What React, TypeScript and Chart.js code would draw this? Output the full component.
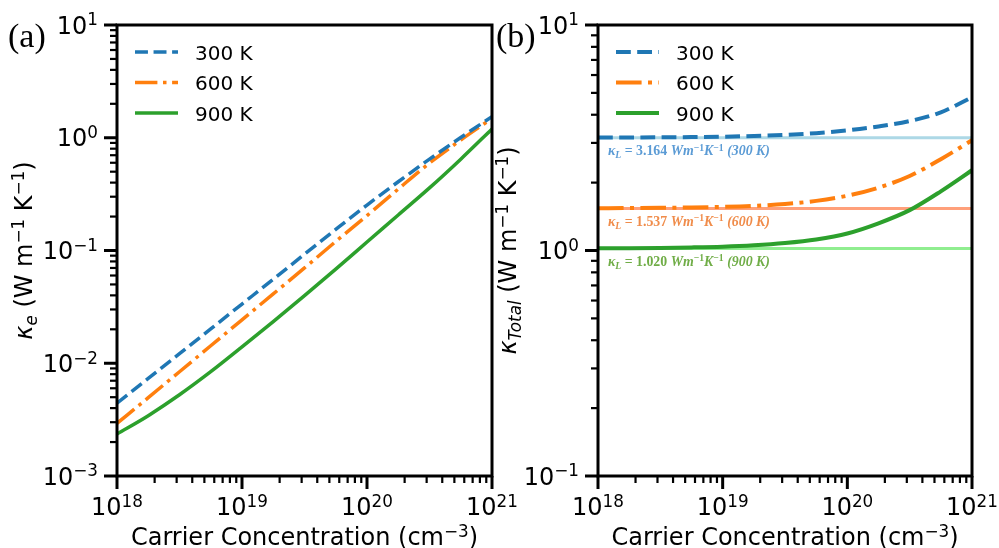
import React, { useEffect, useRef } from 'react';
import { Chart, registerables } from 'chart.js';

Chart.register(...registerables);

// ---------------- data ----------------
const CARRIER_CONC = [1e18, 1.778e18, 3.162e18, 5.623e18, 1e19, 1.778e19, 3.162e19, 5.623e19, 1e20, 1.778e20, 3.162e20, 5.623e20, 1e21];

// panel (a): electronic thermal conductivity
const KE_300 = [0.00442, 0.00733, 0.01216, 0.02018, 0.0335, 0.0556, 0.0927, 0.1538, 0.253, 0.407, 0.646, 1.005, 1.538];
const KE_600 = [0.00293, 0.00495, 0.00841, 0.01429, 0.02427, 0.0412, 0.07, 0.1202, 0.2042, 0.3508, 0.5957, 0.955, 1.486];
const KE_900 = [0.00236, 0.00343, 0.00525, 0.00841, 0.01396, 0.02344, 0.0398, 0.0684, 0.1189, 0.2065, 0.3589, 0.6457, 1.197];

// panel (b): total thermal conductivity
const KTOT_300 = [3.169, 3.171, 3.176, 3.184, 3.197, 3.22, 3.255, 3.315, 3.41, 3.55, 3.75, 4.1, 4.78];
const KTOT_600 = [1.54, 1.542, 1.546, 1.552, 1.562, 1.578, 1.607, 1.66, 1.75, 1.9, 2.14, 2.54, 3.08];
const KTOT_900 = [1.022, 1.024, 1.027, 1.032, 1.04, 1.055, 1.08, 1.12, 1.19, 1.32, 1.51, 1.83, 2.27];

// lattice thermal conductivity
const KL_VALUES = [3.164, 1.537, 1.02];
const KL_TEXT = ['3.164', '1.537', '1.020'];
const TEMPS = ['300 K', '600 K', '900 K'];
const TEMP_NUMS = ['300', '600', '900'];

// ticks
const X_TICKS = [1e18, 1e19, 1e20, 1e21];
const X_TICK_EXP = ['18', '19', '20', '21'];
const Y_TICKS_A = [1e-3, 1e-2, 1e-1, 1, 10];
const Y_TICK_EXP_A = ['−3', '−2', '−1', '0', '1'];
const Y_TICKS_B = [0.1, 1, 10];
const Y_TICK_EXP_B = ['−1', '0', '1'];

// ---------------- styles ----------------
const COLORS = ['#1f77b4', '#ff7f0e', '#2ca02c'];
const KL_LINE_COLORS = ['#add8e6', '#ffa07a', '#90ee90'];
const KL_TEXT_COLORS = ['#5b9bd5', '#f08c4a', '#70ad47'];
const SANS = '"DejaVu Sans", sans-serif';
const SERIF = '"Liberation Serif", serif';
const NOTE_WIDTH = 162;

type Seg = { t: string; sup?: boolean; sub?: boolean; italic?: boolean; bold?: boolean };

function segFont(s: Seg, size: number, family: string, boldAll = false, italicAll = false) {
  const sz = s.sup || s.sub ? size * 0.7 : size;
  const it = s.italic || italicAll ? 'italic ' : '';
  const bd = s.bold || boldAll ? 'bold ' : '';
  return `${it}${bd}${sz}px ${family}`;
}

function measureRich(ctx: CanvasRenderingContext2D, segs: Seg[], size: number, family: string, boldAll = false, italicAll = false) {
  let w = 0;
  for (const s of segs) {
    ctx.font = segFont(s, size, family, boldAll, italicAll);
    w += ctx.measureText(s.t).width;
  }
  return w;
}

function drawRich(
  ctx: CanvasRenderingContext2D,
  segs: Seg[],
  x: number,
  y: number,
  size: number,
  family: string,
  align: 'left' | 'center' | 'right',
  color: string,
  boldAll = false,
  italicAll = false
) {
  const w = measureRich(ctx, segs, size, family, boldAll, italicAll);
  let cx = align === 'left' ? x : align === 'center' ? x - w / 2 : x - w;
  ctx.textAlign = 'left';
  ctx.textBaseline = 'alphabetic';
  ctx.fillStyle = color;
  for (const s of segs) {
    ctx.font = segFont(s, size, family, boldAll, italicAll);
    const dy = s.sup ? -size * 0.34 : s.sub ? size * 0.2 : 0;
    ctx.fillText(s.t, cx, y + dy);
    cx += ctx.measureText(s.t).width;
  }
}

type PanelCfg = {
  yTicks: number[];
  yExp: string[];
  yMin: number;
  yMax: number;
  yTitle: Seg[];
  yTitleX: number;
  panelLabel: string;
  panelLabelX: number;
  lineWidth: number;
  showKL: boolean;
};

function noteSegs(i: number): Seg[] {
  return [
    { t: 'κ', italic: true },
    { t: 'L', sub: true, italic: true },
    { t: ' = ' + KL_TEXT[i] + ' ' },
    { t: 'Wm', italic: true },
    { t: '−1', sup: true },
    { t: 'K', italic: true },
    { t: '−1', sup: true },
    { t: ' (' + TEMP_NUMS[i] + ' ', italic: true },
    { t: 'K', italic: true },
    { t: ')', italic: true },
  ];
}

function makePlugin(cfg: PanelCfg) {
  return {
    id: 'panelDecor',
    afterDraw(chart: any) {
      const ctx: CanvasRenderingContext2D = chart.ctx;
      const { left, right, top, bottom } = chart.chartArea;
      const xs = chart.scales.x;
      const ys = chart.scales.y;
      ctx.save();

      // kappa_L annotations
      if (cfg.showKL) {
        const w16 = measureRich(ctx, noteSegs(0), 16, SERIF, true);
        const size = (16 * NOTE_WIDTH) / w16;
        KL_VALUES.forEach((v, i) => {
          const py = ys.getPixelForValue(v);
          drawRich(ctx, noteSegs(i), left + 10, py + 13 + size * 0.33, size, SERIF, 'left', KL_TEXT_COLORS[i], true, false);
        });
      }

      ctx.strokeStyle = '#000';
      ctx.setLineDash([]);
      // x ticks
      const xMajor = X_TICKS.map((v) => xs.getPixelForValue(v));
      ctx.lineWidth = 3;
      xMajor.forEach((px) => {
        ctx.beginPath();
        ctx.moveTo(px, bottom);
        ctx.lineTo(px, bottom + 13);
        ctx.stroke();
      });
      ctx.lineWidth = 2.2;
      for (let k = 0; k < X_TICKS.length - 1; k++) {
        for (let m = 2; m <= 9; m++) {
          const px = xs.getPixelForValue(X_TICKS[k] * m);
          ctx.beginPath();
          ctx.moveTo(px, bottom);
          ctx.lineTo(px, bottom + 7);
          ctx.stroke();
        }
      }
      // y ticks
      ctx.lineWidth = 3;
      cfg.yTicks.forEach((v) => {
        const py = ys.getPixelForValue(v);
        ctx.beginPath();
        ctx.moveTo(left, py);
        ctx.lineTo(left - 13, py);
        ctx.stroke();
      });
      ctx.lineWidth = 2.2;
      for (let k = 0; k < cfg.yTicks.length - 1; k++) {
        for (let m = 2; m <= 9; m++) {
          const py = ys.getPixelForValue(cfg.yTicks[k] * m);
          ctx.beginPath();
          ctx.moveTo(left, py);
          ctx.lineTo(left - 7, py);
          ctx.stroke();
        }
      }
      // frame
      ctx.lineWidth = 3;
      ctx.strokeRect(left, top, right - left, bottom - top);

      // tick labels
      X_TICKS.forEach((v, i) => {
        drawRich(ctx, [{ t: '10' }, { t: X_TICK_EXP[i], sup: true }], xs.getPixelForValue(v), bottom + 39, 24, SANS, 'center', '#000');
      });
      cfg.yTicks.forEach((v, i) => {
        drawRich(ctx, [{ t: '10' }, { t: cfg.yExp[i], sup: true }], left - 19, ys.getPixelForValue(v) + 8.5, 24, SANS, 'right', '#000');
      });

      // x title
      drawRich(
        ctx,
        [{ t: 'Carrier Concentration (cm' }, { t: '−3', sup: true }, { t: ')' }],
        (left + right) / 2,
        545,
        24,
        SANS,
        'center',
        '#000'
      );
      // y title
      ctx.save();
      ctx.translate(cfg.yTitleX, (top + bottom) / 2);
      ctx.rotate(-Math.PI / 2);
      drawRich(ctx, cfg.yTitle, 0, 0, 24, SANS, 'center', '#000');
      ctx.restore();

      // legend
      const ds = chart.data.datasets;
      [0, 1, 2].forEach((i) => {
        const ly = top + 27 + i * 30.5;
        ctx.strokeStyle = COLORS[i];
        ctx.lineWidth = cfg.lineWidth;
        ctx.lineCap = 'butt';
        ctx.setLineDash(ds[i].borderDash || []);
        ctx.lineDashOffset = 0;
        ctx.beginPath();
        ctx.moveTo(left + 18, ly);
        ctx.lineTo(left + 61, ly);
        ctx.stroke();
        ctx.setLineDash([]);
        ctx.font = `20px ${SANS}`;
        ctx.fillStyle = '#000';
        ctx.textAlign = 'left';
        ctx.textBaseline = 'alphabetic';
        ctx.fillText(TEMPS[i], left + 78, ly + 7.5);
      });

      // panel label
      ctx.font = `34px ${SERIF}`;
      ctx.fillStyle = '#000';
      ctx.textAlign = 'left';
      ctx.textBaseline = 'alphabetic';
      ctx.fillText(cfg.panelLabel, cfg.panelLabelX, 47);

      ctx.restore();
    },
  };
}

function buildConfig(cfg: PanelCfg, series: number[][], padding: any) {
  const lw = cfg.lineWidth;
  const dashes = [[3.7 * lw, 1.6 * lw], [6.4 * lw, 1.6 * lw, 1 * lw, 1.6 * lw], []];
  const datasets: any[] = series.map((vals, i) => ({
    label: TEMPS[i],
    data: CARRIER_CONC.map((n, j) => ({ x: n, y: vals[j] })),
    borderColor: COLORS[i],
    borderWidth: lw,
    borderDash: dashes[i],
    pointRadius: 0,
    fill: false,
    cubicInterpolationMode: 'monotone',
  }));
  if (cfg.showKL) {
    KL_VALUES.forEach((v, i) => {
      datasets.push({
        label: 'κL ' + TEMPS[i],
        data: [
          { x: CARRIER_CONC[0], y: v },
          { x: CARRIER_CONC[CARRIER_CONC.length - 1], y: v },
        ],
        borderColor: KL_LINE_COLORS[i],
        borderWidth: 3,
        pointRadius: 0,
        fill: false,
      });
    });
  }
  return {
    type: 'line' as const,
    data: { datasets },
    options: {
      animation: false,
      responsive: false,
      maintainAspectRatio: false,
      devicePixelRatio: 1,
      layout: { padding },
      plugins: { legend: { display: false }, tooltip: { enabled: false }, title: { display: false } },
      events: [],
      scales: {
        x: { type: 'logarithmic', min: 1e18, max: 1e21, display: false },
        y: { type: 'logarithmic', min: cfg.yMin, max: cfg.yMax, display: false },
      },
    },
    plugins: [makePlugin(cfg)],
  };
}

const CFG_A: PanelCfg = {
  yTicks: Y_TICKS_A,
  yExp: Y_TICK_EXP_A,
  yMin: 1e-3,
  yMax: 10,
  yTitle: [
    { t: 'κ', italic: true },
    { t: 'e', sub: true, italic: true },
    { t: ' (W m' },
    { t: '−1', sup: true },
    { t: ' K' },
    { t: '−1', sup: true },
    { t: ')' },
  ],
  yTitleX: 32,
  panelLabel: '(a)',
  panelLabelX: 8,
  lineWidth: 3.5,
  showKL: false,
};

const CFG_B: PanelCfg = {
  yTicks: Y_TICKS_B,
  yExp: Y_TICK_EXP_B,
  yMin: 0.1,
  yMax: 10,
  yTitle: [
    { t: 'κ', italic: true },
    { t: 'Total', sub: true, italic: true },
    { t: ' (W m' },
    { t: '−1', sup: true },
    { t: ' K' },
    { t: '−1', sup: true },
    { t: ')' },
  ],
  yTitleX: 516 - 490,
  panelLabel: '(b)',
  panelLabelX: 6,
  lineWidth: 4,
  showKL: true,
};

export default function App() {
  const refA = useRef<HTMLCanvasElement | null>(null);
  const refB = useRef<HTMLCanvasElement | null>(null);

  useEffect(() => {
    const a = new Chart(refA.current as HTMLCanvasElement, buildConfig(CFG_A, [KE_300, KE_600, KE_900], { left: 117, right: 520 - 492, top: 25, bottom: 72 }) as any);
    const b = new Chart(refB.current as HTMLCanvasElement, buildConfig(CFG_B, [KTOT_300, KTOT_600, KTOT_900], { left: 108, right: 509 - 482, top: 25, bottom: 72 }) as any);
    return () => {
      a.destroy();
      b.destroy();
    };
  }, []);

  return (
    <div style={{ position: 'fixed', left: 0, top: 0, width: 999, height: 548, background: '#fff', overflow: 'hidden' }}>
      <canvas ref={refA} width={520} height={548} style={{ position: 'absolute', left: 0, top: 0, width: 520, height: 548 }} />
      <canvas ref={refB} width={509} height={548} style={{ position: 'absolute', left: 490, top: 0, width: 509, height: 548 }} />
    </div>
  );
}
